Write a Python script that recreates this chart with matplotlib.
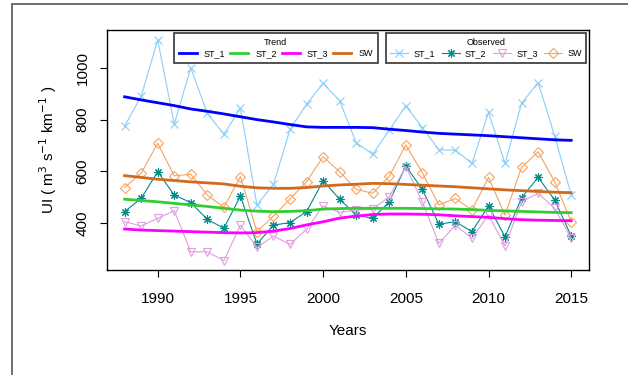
import matplotlib
matplotlib.use("Agg")
import matplotlib.pyplot as plt
from matplotlib.patches import Rectangle

plt.rcParams["font.family"] = ["Liberation Sans", "DejaVu Sans"]

years = list(range(1988, 2016))

# observed series
obs_st1 = [775, 890, 1107, 783, 1000, 824, 744, 843, 471, 550, 763, 859, 940, 873,
           711, 666, 760, 853, 769, 684, 682, 631, 828, 631, 863, 943, 737, 509]
obs_st2 = [445, 496, 599, 509, 480, 415, 381, 505, 320, 393, 403, 445, 564, 493,
           432, 419, 483, 621, 531, 397, 406, 368, 467, 348, 499, 577, 490, 351]
obs_st3 = [406, 390, 419, 449, 290, 290, 256, 393, 307, 351, 319, 377, 467, 442,
           451, 454, 503, 619, 483, 323, 393, 342, 432, 312, 483, 516, 458, 342]
obs_sw = [538, 593, 709, 583, 589, 509, 462, 580, 368, 428, 494, 561, 657, 599,
          531, 516, 582, 702, 595, 471, 496, 451, 577, 432, 616, 676, 560, 406]

# trend series
tr_st1 = [888, 876, 865, 854, 841, 832, 822, 811, 800, 791, 781, 772, 770, 770,
          770, 769, 763, 758, 752, 747, 744, 741, 738, 734, 730, 726, 722, 720]
tr_st2 = [493, 488, 483, 477, 471, 465, 458, 451, 447, 445, 446, 449, 455, 457,
          458, 458, 458, 458, 457, 456, 455, 453, 450, 448, 446, 444, 442, 441]
tr_st3 = [378, 374, 372, 370, 368, 366, 364, 363, 364, 370, 380, 394, 406, 420,
          428, 434, 436, 436, 435, 433, 429, 426, 423, 418, 414, 412, 411, 410]
tr_sw = [584, 577, 570, 565, 560, 556, 552, 543, 537, 535, 535, 538, 544, 548,
         551, 554, 553, 550, 547, 544, 541, 537, 533, 529, 526, 523, 520, 518]

labels = ["ST_1", "ST_2", "ST_3", "SW"]
trend_colors = ["#0000FF", "#33CC33", "#FF00FF", "#D2691E"]
obs_colors = ["#87CEFA", "#008B8B", "#DDA0DD", "#F4A460"]

fig = plt.figure(figsize=(6.28, 3.75), dpi=100)
ax = fig.add_axes([0.170, 0.28, 0.768, 0.64])

# outer frame
fig.patches.append(Rectangle((12 / 628, -0.1), 1.2, 1 - 4 / 375 + 0.1,
                             transform=fig.transFigure, fill=False,
                             edgecolor="#555555", linewidth=1.2))

# observed
obs_handles = []
for vals, col, mk, lab in zip([obs_st1, obs_st2, obs_st3, obs_sw], obs_colors,
                              ["x", (8, 2, 0), "v", "D"], labels):
    h, = ax.plot(years, vals, color=col, linewidth=0.8, marker=mk,
                 markersize=6 if mk != "D" else 5, markerfacecolor="none",
                 markeredgecolor=col, markeredgewidth=0.8, label=lab)
    obs_handles.append(h)

# trend
tr_handles = []
for vals, col, lab in zip([tr_st1, tr_st2, tr_st3, tr_sw], trend_colors, labels):
    h, = ax.plot(years, vals, color=col, linewidth=2, label=lab)
    tr_handles.append(h)

ax.set_xlim(1986.92, 2016.08)
ax.set_ylim(220, 1145.6)
ax.set_xticks([1990, 1995, 2000, 2005, 2010, 2015])
ax.set_yticks([400, 600, 800, 1000])
ax.tick_params(axis="both", direction="out", length=5, width=0.8, labelsize=11)
ax.tick_params(axis="x", pad=10.5)
ax.tick_params(axis="y", pad=7.5)
for lbl in ax.get_yticklabels():
    lbl.set_rotation(90)
    lbl.set_va("center")
for s in ax.spines.values():
    s.set_linewidth(1.0)

ax.set_xlabel("Years", fontsize=11, labelpad=13)
ax.set_ylabel("UI ( m$^3$ s$^{-1}$ km$^{-1}$ )", fontsize=11, labelpad=12)

leg1 = ax.legend(handles=tr_handles, title="Trend", ncol=4, fontsize=6.5,
                 title_fontsize=6.5, loc="upper left",
                 bbox_to_anchor=(0.1395, 0.9875, 0.422, 0), mode="expand",
                 borderaxespad=0, fancybox=False, edgecolor="#333333",
                 handlelength=2.0, handletextpad=0.8, framealpha=1,
                 borderpad=0.5, labelspacing=0.3)
leg1.get_frame().set_linewidth(1.2)
ax.add_artist(leg1)

leg2 = ax.legend(handles=obs_handles, title="Observed", ncol=4, fontsize=6.5,
                 title_fontsize=6.5, loc="upper left",
                 bbox_to_anchor=(0.5787, 0.9875, 0.4158, 0), mode="expand",
                 borderaxespad=0, fancybox=False, edgecolor="#333333",
                 handlelength=2.0, handletextpad=0.6, framealpha=1,
                 borderpad=0.5, labelspacing=0.3)
leg2.get_frame().set_linewidth(1.2)

fig.savefig("out.png", dpi=100)
